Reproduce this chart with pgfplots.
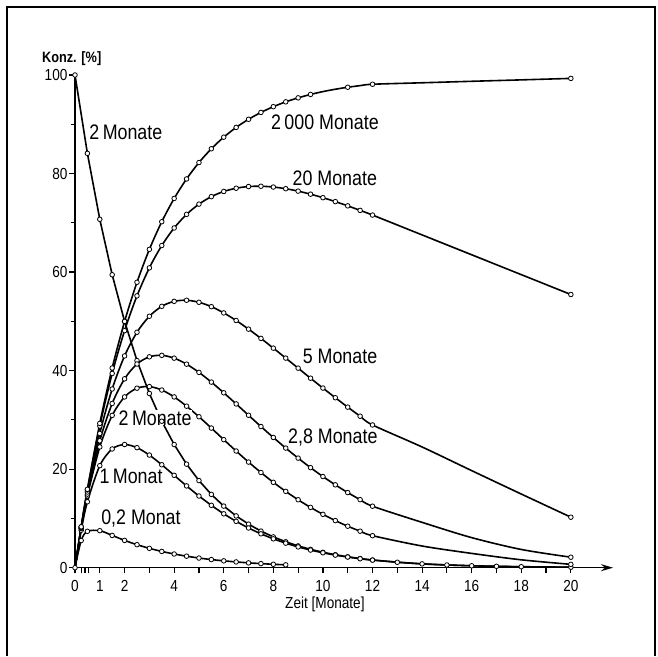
\documentclass[border=0pt]{standalone}
\usepackage{fontspec}
\setmainfont{Liberation Sans}[FakeStretch=0.85]
\usepackage{pgfplots}
\pgfplotsset{compat=1.18}
\usetikzlibrary{arrows.meta}
\begin{document}
\begin{tikzpicture}
\begin{axis}[
  scale only axis,
  width=269pt, height=246.35pt,
  xmin=0, xmax=21.7, ymin=0, ymax=100,
  axis x line=bottom, axis y line=left,
  x axis line style={-{Stealth[length=6pt,width=3.5pt]}},
  y axis line style={-},
  axis line style={line width=0.8pt},
  xtick={0,1,2,4,6,8,10,12,14,16,18,20},
  extra x ticks={0.25,0.4,0.55,3,5,7,9,11,13,15,17,19},
  extra x tick labels={},
  extra x tick style={tick align=outside},
  ytick={0,20,40,60,80,100},
  minor y tick num=1,
  tick align=outside,
  major tick length=2.8pt, minor tick length=2pt,
  tick style={line width=0.6pt, black},
  every tick label/.append style={font=\fontsize{8}{9}\selectfont},
  yticklabel style={inner sep=0.8pt},
  /pgf/number format/assume math mode=true,
  clip=false,
  every axis plot/.append style={line width=0.8pt, black},
  mark options={fill=white, draw=black, line width=0.4pt, solid},
  mark size=1.15pt,
]
% frame
\path ([xshift=-37.5pt,yshift=-44.15pt]axis cs:0,0) rectangle ([xshift=291.5pt,yshift=283.85pt]axis cs:0,0);
\draw[line width=1pt] ([xshift=-33.85pt,yshift=-44.15pt]axis cs:0,0) -- ([xshift=-33.85pt,yshift=280.2pt]axis cs:0,0) -- ([xshift=290pt,yshift=280.2pt]axis cs:0,0) -- ([xshift=290pt,yshift=-44.15pt]axis cs:0,0);

% ---------- lines ----------
% parent, T = 2 Monate
\addplot[sharp plot] coordinates {(0,100)(0.5,84.09)(1,70.71)(1.5,59.46)(2,50)(2.5,42.04)(3,35.36)(3.5,29.73)(4,25)(4.5,21.02)(5,17.68)(5.5,14.87)(6,12.5)(6.5,10.51)(7,8.84)(7.5,7.43)(8,6.25)(8.5,5.26)(9,4.42)(9.5,3.72)(10,3.13)(10.5,2.63)(11,2.21)(11.5,1.86)(12,1.56)(13,1.10)(14,0.78)(15,0.55)(16,0.39)(17,0.28)(18,0.20)(20,0.10)};
% 0,2 Monat
\addplot[smooth] coordinates {(0,0)(0.25,5.52)(0.5,7.38)(1,7.51)(1.5,6.55)(2,5.54)(2.5,4.67)(3,3.93)(3.5,3.30)(4,2.78)(4.5,2.34)(5,1.96)(5.5,1.65)(6,1.39)(6.5,1.17)(7,0.98)(7.5,0.83)(8,0.69)(8.5,0.58)};
% 1 Monat
\addplot[smooth] coordinates {(0,0)(0.25,7.61)(0.5,13.38)(1,20.71)(1.5,24.10)(2,25)(2.5,24.36)(3,22.86)(3.5,20.89)(4,18.75)(4.5,16.60)(5,14.55)(5.5,12.66)(6,10.94)(6.5,9.41)(7,8.06)(7.5,6.88)(8,5.86)(8.5,4.98)(9,4.22)(9.5,3.58)(10,3.03)(10.5,2.56)(11,2.16)(11.5,1.82)(12,1.54)(14,0.77)(16,0.39)(18,0.19)(20,0.10)};
% 2 Monate (daughter)
\addplot[smooth] coordinates {(0,0)(0.25,7.95)(0.5,14.57)(1,24.51)(1.5,30.91)(2,34.66)(2.5,36.43)(3,36.76)(3.5,36.06)(4,34.66)(4.5,32.78)(5,30.64)(5.5,28.34)(6,25.99)(6.5,23.68)(7,21.44)(7.5,19.32)(8,17.33)(8.5,15.49)(9,13.79)(9.5,12.24)(10,10.83)(10.5,9.56)(11,8.42)(11.5,7.41)(12,6.50)(14,4.4)(16,2.9)(18,1.6)(20,0.68)};
% 2,8 Monate
\addplot[smooth] coordinates {(0,0)(0.25,8.05)(0.5,14.94)(1,25.76)(1.5,33.33)(2,38.33)(2.5,41.34)(3,42.80)(3.5,43.10)(4,42.53)(4.5,41.31)(5,39.64)(5.5,37.67)(6,35.50)(6.5,33.24)(7,30.94)(7.5,28.65)(8,26.43)(8.5,24.28)(9,22.24)(9.5,20.31)(10,18.50)(10.5,16.82)(11,15.25)(11.5,13.81)(12,12.48)(14,9.2)(16,6.1)(18,3.7)(20,2.13)};
% 5 Monate
\addplot[smooth] coordinates {(0,0)(0.25,8.16)(0.5,15.36)(1,27.24)(1.5,36.27)(2,42.98)(2.5,47.78)(3,51.03)(3.5,53.05)(4,54.06)(4.5,54.28)(5,53.87)(5.5,52.98)(6,51.71)(6.5,50.17)(7,48.42)(7.5,46.54)(8,44.56)(8.5,42.54)(9,40.50)(9.5,38.46)(10,36.46)(10.5,34.50)(11,32.59)(11.5,30.75)(12,28.97)(14,24.5)(16,19.7)(18,14.95)(20,10.25)};
% 20 Monate
\addplot[smooth] coordinates {(0,0)(0.25,8.26)(0.5,15.77)(1,28.76)(1.5,39.42)(2,48.11)(2.5,55.17)(3,60.86)(3.5,65.39)(4,68.95)(4.5,71.71)(5,73.79)(5.5,75.31)(6,76.36)(6.5,77.02)(7,77.36)(7.5,77.42)(8,77.26)(8.5,76.92)(9,76.43)(9.5,75.81)(10,75.10)(10.5,74.30)(11,73.44)(11.5,72.52)(12,71.57)(14,67.54)(16,63.51)(18,59.48)(20,55.45)};
% 2000 Monate
\addplot[smooth] coordinates {(0,0)(0.25,8.30)(0.5,15.91)(1,29.28)(1.5,40.53)(2,49.98)(2.5,57.93)(3,64.61)(3.5,70.22)(4,74.94)(4.5,78.90)(5,82.23)(5.5,85.03)(6,87.38)(6.5,89.36)(7,91.01)(7.5,92.40)(8,93.57)(8.5,94.55)(9,95.36)(9.5,96.05)(10,96.63)(10.5,97.11)(11,97.51)(11.5,97.84)(12,98.12)(14,98.42)(16,98.72)(18,99.01)(20,99.31)};

% ---------- marks ----------
\addplot[only marks, mark=*] coordinates {(0,100)(0.5,84.09)(1,70.71)(1.5,59.46)(2,50)(2.5,42.04)(3,35.36)(3.5,29.73)(4,25)(4.5,21.02)(5,17.68)(5.5,14.87)(6,12.5)(6.5,10.51)(7,8.84)(7.5,7.43)(8,6.25)(8.5,5.26)(9,4.42)(9.5,3.72)(10,3.13)(10.5,2.63)(11,2.21)(11.5,1.86)(12,1.56)(13,1.10)(14,0.78)(15,0.55)(16,0.39)(17,0.28)(18,0.20)(20,0.10)};
\addplot[only marks, mark=*] coordinates {(0,0)(0.25,5.52)(0.5,7.38)(1,7.51)(1.5,6.55)(2,5.54)(2.5,4.67)(3,3.93)(3.5,3.30)(4,2.78)(4.5,2.34)(5,1.96)(5.5,1.65)(6,1.39)(6.5,1.17)(7,0.98)(7.5,0.83)(8,0.69)(8.5,0.58)};
\addplot[only marks, mark=*] coordinates {(0.25,7.61)(0.5,13.38)(1,20.71)(1.5,24.10)(2,25)(2.5,24.36)(3,22.86)(3.5,20.89)(4,18.75)(4.5,16.60)(5,14.55)(5.5,12.66)(6,10.94)(6.5,9.41)(7,8.06)(7.5,6.88)(8,5.86)(8.5,4.98)(9,4.22)(9.5,3.58)(10,3.03)(10.5,2.56)(11,2.16)(11.5,1.82)(12,1.54)};
\addplot[only marks, mark=*] coordinates {(0.25,7.95)(0.5,14.57)(1,24.51)(1.5,30.91)(2,34.66)(2.5,36.43)(3,36.76)(3.5,36.06)(4,34.66)(4.5,32.78)(5,30.64)(5.5,28.34)(6,25.99)(6.5,23.68)(7,21.44)(7.5,19.32)(8,17.33)(8.5,15.49)(9,13.79)(9.5,12.24)(10,10.83)(10.5,9.56)(11,8.42)(11.5,7.41)(12,6.50)(20,0.68)};
\addplot[only marks, mark=*] coordinates {(0.25,8.05)(0.5,14.94)(1,25.76)(1.5,33.33)(2,38.33)(2.5,41.34)(3,42.80)(3.5,43.10)(4,42.53)(4.5,41.31)(5,39.64)(5.5,37.67)(6,35.50)(6.5,33.24)(7,30.94)(7.5,28.65)(8,26.43)(8.5,24.28)(9,22.24)(9.5,20.31)(10,18.50)(10.5,16.82)(11,15.25)(11.5,13.81)(12,12.48)(20,2.13)};
\addplot[only marks, mark=*] coordinates {(0.25,8.16)(0.5,15.36)(1,27.24)(1.5,36.27)(2,42.98)(2.5,47.78)(3,51.03)(3.5,53.05)(4,54.06)(4.5,54.28)(5,53.87)(5.5,52.98)(6,51.71)(6.5,50.17)(7,48.42)(7.5,46.54)(8,44.56)(8.5,42.54)(9,40.50)(9.5,38.46)(10,36.46)(10.5,34.50)(11,32.59)(11.5,30.75)(12,28.97)(20,10.25)};
\addplot[only marks, mark=*] coordinates {(0.25,8.26)(0.5,15.77)(1,28.76)(1.5,39.42)(2,48.11)(2.5,55.17)(3,60.86)(3.5,65.39)(4,68.95)(4.5,71.71)(5,73.79)(5.5,75.31)(6,76.36)(6.5,77.02)(7,77.36)(7.5,77.42)(8,77.26)(8.5,76.92)(9,76.43)(9.5,75.81)(10,75.10)(10.5,74.30)(11,73.44)(11.5,72.52)(12,71.57)(20,55.45)};
\addplot[only marks, mark=*] coordinates {(0.25,8.30)(0.5,15.91)(1,29.28)(1.5,40.53)(2,49.98)(2.5,57.93)(3,64.61)(3.5,70.22)(4,74.94)(4.5,78.90)(5,82.23)(5.5,85.03)(6,87.38)(6.5,89.36)(7,91.01)(7.5,92.40)(8,93.57)(8.5,94.55)(9,95.36)(9.5,96.05)(11,97.51)(12,98.12)(20,99.31)};

% labels
\begin{scope}[every node/.style={font=\fontsize{10.5}{12}\selectfont, inner sep=0.6pt}]
\node[fill=white] at (axis cs:2.05,88.3) {2\,Monate};
\node at (axis cs:10.08,90.36) {2\,000 Monate};
\node at (axis cs:10.48,79.1) {20 Monate};
\node at (axis cs:10.69,42.8) {5 Monate};
\node at (axis cs:10.4,26.5) {2,8 Monate};
\node[fill=white, inner sep=0pt] at (axis cs:3.23,30.4) {2\,Monate};
\node at (axis cs:2.26,18.6) {1\,Monat};
\node at (axis cs:2.66,9.9) {0,2 Monat};
\end{scope}
\node[font=\fontsize{8}{9}\selectfont] at ([yshift=-18.2pt]axis cs:10.08,0) {Zeit [Monate]};
\node[font=\bfseries\fontsize{7.5}{9}\selectfont] at ([xshift=-1.65pt,yshift=8pt]axis cs:0,100) {Konz. [\%]};
\end{axis}
\end{tikzpicture}
\end{document}
